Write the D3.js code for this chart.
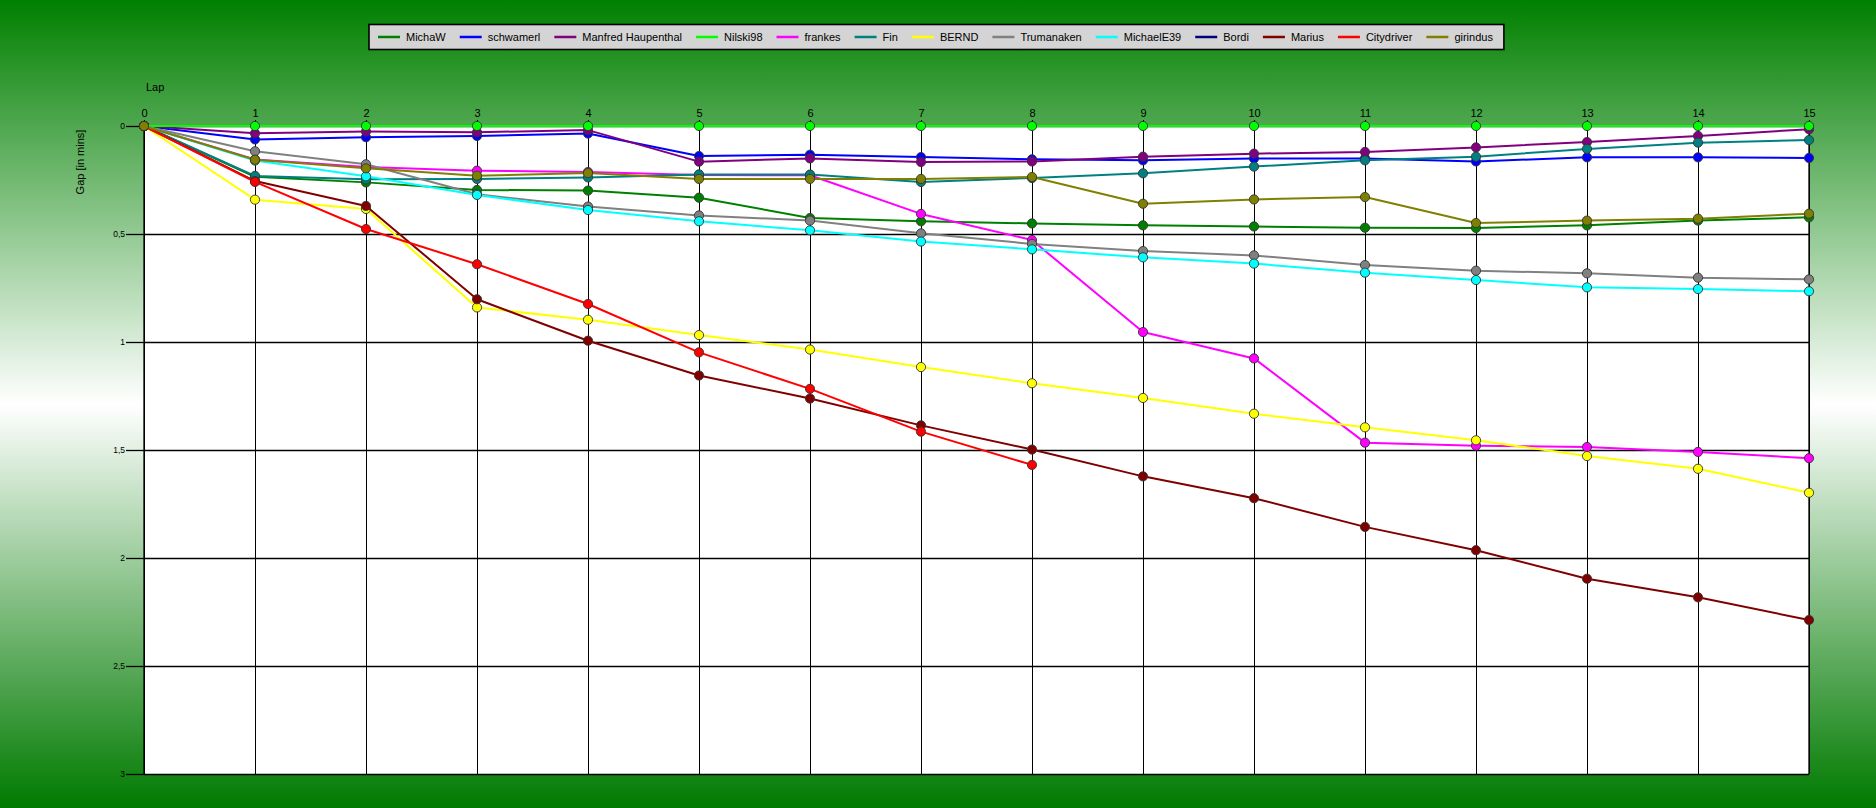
<!DOCTYPE html>
<html><head><meta charset="utf-8">
<script src="https://cdn.jsdelivr.net/npm/d3@7"></script>
<style>body{margin:0;overflow:hidden;} svg{display:block;} text{font-family:"Liberation Sans",Arial,sans-serif;}</style>
</head><body>
<svg id="c" width="1876" height="808"></svg>
<script>
const laps = d3.range(0, 16);
const drivers = ["MichaW","schwamerl","Manfred Haupenthal","Nilski98","frankes","Fin","BERND","Trumanaken","MichaelE39","Bordi","Marius","Citydriver","girindus"];
const colors = ["#008000","#0000ff","#800080","#00ff00","#ff00ff","#008080","#ffff00","#808080","#00ffff","#000080","#800000","#ff0000","#808000"];
const yTicks = [0, 0.5, 1, 1.5, 2, 2.5, 3];
const yTickLabels = ["0","0,5","1","1,5","2","2,5","3"];

const MichaW     = [0,0.235,0.261,0.296,0.299,0.332,0.426,0.441,0.451,0.460,0.465,0.471,0.472,0.460,0.438,0.423];
const schwamerl  = [0,0.062,0.052,0.046,0.035,0.139,0.133,0.144,0.154,0.159,0.151,0.150,0.164,0.145,0.145,0.148];
const Manfred    = [0,0.034,0.026,0.029,0.019,0.165,0.150,0.167,0.164,0.142,0.128,0.120,0.099,0.074,0.046,0.015];
const Nilski98   = [0,0,0,0,0,0,0,0,0,0,0,0,0,0,0,0];
const frankes    = [0,0.155,0.190,0.207,0.213,0.227,0.228,0.407,0.528,0.954,1.076,1.466,1.480,1.486,1.509,1.538];
const Fin        = [0,0.231,0.247,0.245,0.238,0.224,0.225,0.259,0.241,0.219,0.188,0.159,0.142,0.106,0.077,0.065];
const BERND      = [0,0.341,0.384,0.840,0.897,0.968,1.035,1.116,1.191,1.259,1.332,1.395,1.455,1.528,1.587,1.698];
const Trumanaken = [0,0.117,0.177,0.316,0.373,0.414,0.438,0.497,0.546,0.579,0.599,0.644,0.670,0.682,0.702,0.710];
const MichaelE39 = [0,0.160,0.233,0.319,0.389,0.441,0.483,0.535,0.571,0.608,0.637,0.679,0.713,0.747,0.755,0.765];
const Bordi      = [];
const Marius     = [0,0.255,0.370,0.802,0.994,1.155,1.262,1.386,1.498,1.622,1.723,1.856,1.964,2.096,2.182,2.287];
const Citydriver = [0,0.259,0.477,0.640,0.824,1.048,1.217,1.415,1.569];
const girindus   = [0,0.156,0.196,0.230,0.218,0.245,0.245,0.245,0.236,0.360,0.340,0.329,0.449,0.438,0.429,0.406];

const seriesValues = [MichaW,schwamerl,Manfred,Nilski98,frankes,Fin,BERND,Trumanaken,MichaelE39,Bordi,Marius,Citydriver,girindus];

const W = 1876, H = 808;
const svg = d3.select("#c");
const defs = svg.append("defs");
const grad = defs.append("linearGradient").attr("id","bg").attr("x1",0).attr("y1",0).attr("x2",0).attr("y2",1);
grad.append("stop").attr("offset","0%").attr("stop-color","#008000");
grad.append("stop").attr("offset","50%").attr("stop-color","#ffffff");
grad.append("stop").attr("offset","100%").attr("stop-color","#007a00");
svg.append("rect").attr("width",W).attr("height",H).attr("fill","url(#bg)");

const x = d3.scaleLinear().domain([0,15]).range([144,1809]);
const y = d3.scaleLinear().domain([0,3]).range([126,774]);

svg.append("rect").attr("x",x(0)).attr("y",y(0)).attr("width",x(15)-x(0)).attr("height",y(3)-y(0)).attr("fill","#ffffff");

const xAxis = d3.axisTop(x).tickValues(laps).tickFormat(d3.format("d")).tickSizeInner(6).tickSizeOuter(0).tickPadding(3);
const gx = svg.append("g").attr("transform",`translate(0,${y(0)})`).call(xAxis);
gx.select(".domain").remove();
gx.selectAll(".tick line").attr("stroke","#000");
gx.selectAll(".tick text").attr("font-size",11).attr("fill","#000").attr("font-family","Liberation Sans, Arial, sans-serif");
gx.selectAll(".tick").append("line").attr("y1",0).attr("y2",y(3)-y(0)).attr("stroke","#000").attr("stroke-width",1);

const yAxis = d3.axisLeft(y).tickValues(yTicks).tickFormat((d,i)=>yTickLabels[i]).tickSizeInner(18).tickSizeOuter(0).tickPadding(1);
const gy = svg.append("g").attr("transform",`translate(${x(0)},0)`).call(yAxis);
gy.select(".domain").remove();
gy.selectAll(".tick line").attr("stroke","#000").attr("stroke-width",1.3);
gy.selectAll(".tick text").attr("font-size",8.5).attr("fill","#000").attr("font-family","Liberation Sans, Arial, sans-serif");
gy.selectAll(".tick").append("line").attr("x1",0).attr("x2",x(15)-x(0)).attr("stroke","#000").attr("stroke-width",1.3);

svg.append("line").attr("x1",x(0)).attr("x2",x(0)).attr("y1",y(0)).attr("y2",y(3)).attr("stroke","#000").attr("stroke-width",1.3);
svg.append("line").attr("x1",x(15)).attr("x2",x(15)).attr("y1",y(0)).attr("y2",y(3)).attr("stroke","#000").attr("stroke-width",1.3);

svg.append("text").attr("x",x(0)+2).attr("y",91).attr("font-size",11).attr("fill","#000").text("Lap");
svg.append("text").attr("transform",`translate(84,${162}) rotate(-90)`).attr("text-anchor","middle").attr("font-size",11).attr("fill","#000").text("Gap [in mins]");

const line = d3.line().x((d,i)=>x(laps[i])).y(d=>y(d));
seriesValues.forEach((vals,k)=>{
  if (!vals.length) return;
  const g = svg.append("g");
  g.append("path").datum(vals).attr("d",line).attr("fill","none").attr("stroke",colors[k]).attr("stroke-width",2).attr("stroke-linejoin","round");
  g.selectAll("circle").data(vals).join("circle")
    .attr("cx",(d,i)=>x(laps[i])).attr("cy",d=>y(d)).attr("r",4.6)
    .attr("fill",colors[k]).attr("stroke","#333").attr("stroke-width",0.9);
});

const lg = svg.append("g");
const box = lg.append("rect").attr("y",24.5).attr("height",25).attr("fill","#d4d4d4").attr("stroke","#000").attr("stroke-width",1.6);
let cx = 0;
const items = lg.append("g");
drivers.forEach((name,k)=>{
  const it = items.append("g").attr("transform",`translate(${cx},0)`);
  it.append("line").attr("x1",0).attr("x2",22).attr("y1",37).attr("y2",37).attr("stroke",colors[k]).attr("stroke-width",2.5);
  const t = it.append("text").attr("x",28).attr("y",41).attr("font-size",11).attr("fill","#000").text(name);
  cx += 28 + t.node().getComputedTextLength() + 14;
});
const totalW = cx - 14 + 9 + 11;
const left = Math.round(936 - totalW/2);
box.attr("x",left).attr("width",totalW);
items.attr("transform",`translate(${left+9},0)`);
</script>
</body></html>
